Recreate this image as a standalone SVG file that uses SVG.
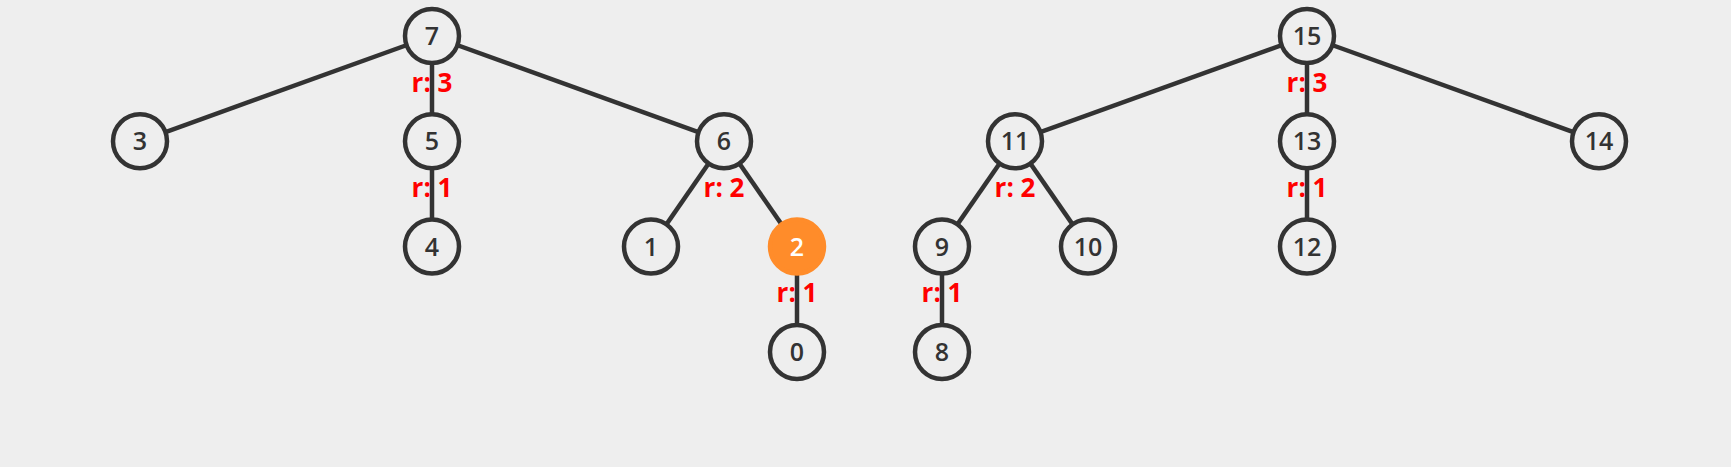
<svg xmlns="http://www.w3.org/2000/svg" width="1731" height="467" viewBox="0 0 1731 467">
<style>
.bg{fill:#eeeeee}
.e{stroke:#333333;stroke-width:4.5;fill:none}
.n circle{fill:#eeeeee;stroke:#333333;stroke-width:4.5}
.n text{font-family:"Open Sans","DejaVu Sans",sans-serif;font-size:25px;font-weight:600;fill:#333333;text-anchor:middle}
.n.hl circle{fill:#ff8c2a;stroke:#ff8c2a}
.n.hl text{fill:#ffffff}
.r{font-family:"Open Sans","DejaVu Sans",sans-serif;font-size:26px;font-weight:bold;fill:#ff0000;text-anchor:middle}
</style>
<rect class="bg" x="0" y="0" width="1731" height="467"/>
<g id="connectors">
<line class="e" x1="432" y1="36" x2="140" y2="141.3"/>
<line class="e" x1="432" y1="36" x2="432" y2="141.3"/>
<line class="e" x1="432" y1="36" x2="724" y2="141.3"/>
<line class="e" x1="432" y1="141.3" x2="432" y2="246.6"/>
<line class="e" x1="724" y1="141.3" x2="651" y2="246.6"/>
<line class="e" x1="724" y1="141.3" x2="797" y2="246.6"/>
<line class="e" x1="797" y1="246.6" x2="797" y2="352"/>
<line class="e" x1="1307" y1="36" x2="1015" y2="141.3"/>
<line class="e" x1="1307" y1="36" x2="1307" y2="141.3"/>
<line class="e" x1="1307" y1="36" x2="1599" y2="141.3"/>
<line class="e" x1="1015" y1="141.3" x2="942" y2="246.6"/>
<line class="e" x1="1015" y1="141.3" x2="1088" y2="246.6"/>
<line class="e" x1="942" y1="246.6" x2="942" y2="352"/>
<line class="e" x1="1307" y1="141.3" x2="1307" y2="246.6"/>
</g>
<g id="labels">
<text class="r" x="432" y="92">r: 3</text>
<text class="r" x="432" y="197">r: 1</text>
<text class="r" x="724" y="197">r: 2</text>
<text class="r" x="797" y="302">r: 1</text>
<text class="r" x="1015" y="197">r: 2</text>
<text class="r" x="942" y="302">r: 1</text>
<text class="r" x="1307" y="92">r: 3</text>
<text class="r" x="1307" y="197">r: 1</text>
</g>
<g id="node-7" class="n"><circle cx="432" cy="36" r="27"/><text x="432" y="45">7</text></g>
<g id="node-3" class="n"><circle cx="140" cy="141.3" r="27"/><text x="140" y="150.3">3</text></g>
<g id="node-5" class="n"><circle cx="432" cy="141.3" r="27"/><text x="432" y="150.3">5</text></g>
<g id="node-6" class="n"><circle cx="724" cy="141.3" r="27"/><text x="724" y="150.3">6</text></g>
<g id="node-4" class="n"><circle cx="432" cy="246.6" r="27"/><text x="432" y="255.6">4</text></g>
<g id="node-1" class="n"><circle cx="651" cy="246.6" r="27"/><text x="651" y="255.6">1</text></g>
<g id="node-2" class="n hl"><circle cx="797" cy="246.6" r="27"/><text x="797" y="255.6">2</text></g>
<g id="node-0" class="n"><circle cx="797" cy="352" r="27"/><text x="797" y="361">0</text></g>
<g id="node-15" class="n"><circle cx="1307" cy="36" r="27"/><text x="1307" y="45">15</text></g>
<g id="node-11" class="n"><circle cx="1015" cy="141.3" r="27"/><text x="1015" y="150.3">11</text></g>
<g id="node-13" class="n"><circle cx="1307" cy="141.3" r="27"/><text x="1307" y="150.3">13</text></g>
<g id="node-14" class="n"><circle cx="1599" cy="141.3" r="27"/><text x="1599" y="150.3">14</text></g>
<g id="node-9" class="n"><circle cx="942" cy="246.6" r="27"/><text x="942" y="255.6">9</text></g>
<g id="node-10" class="n"><circle cx="1088" cy="246.6" r="27"/><text x="1088" y="255.6">10</text></g>
<g id="node-12" class="n"><circle cx="1307" cy="246.6" r="27"/><text x="1307" y="255.6">12</text></g>
<g id="node-8" class="n"><circle cx="942" cy="352" r="27"/><text x="942" y="361">8</text></g>
</svg>
